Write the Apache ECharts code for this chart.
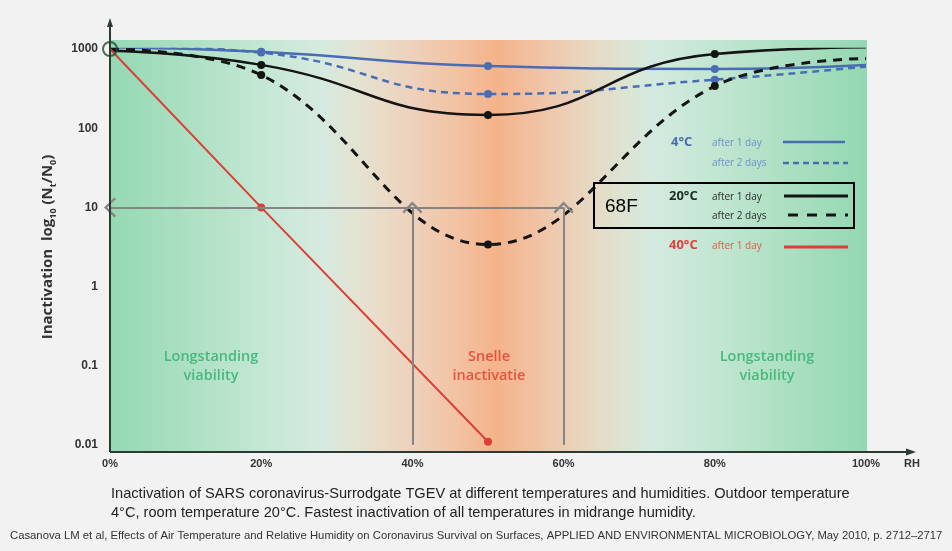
<!DOCTYPE html>
<html><head><meta charset="utf-8">
<script src="https://cdn.jsdelivr.net/npm/echarts@6/dist/echarts.min.js"></script>
<style>html,body{margin:0;padding:0;background:#f2f2f2}#c{width:952px;height:551px}</style>
</head><body><div id="c"></div>
<script>
// ---- data ----
const rhPoints = [0, 20, 50, 80, 100];          // relative humidity (%)
const t4Day1  = [1050, 920, 610, 560, 630];     // 4°C after 1 day
const t4Day2  = [1120, 900, 270, 410, 600];     // 4°C after 2 days
const t20Day1 = [950, 630, 147, 865, 1050];     // 20°C after 1 day
const t20Day2 = [1000, 470, 3.4, 340, 760];     // 20°C after 2 days
const rh40    = [0, 20, 50];
const t40Day1 = [1000, 10, 0.011];              // 40°C after 1 day
const startPoint = [0, 1000];
const xTicks = [0, 20, 40, 60, 80, 100];
const yTicks = [0.01, 0.1, 1, 10, 100, 1000];
const guideLevel = 10;          // horizontal guide at 10
const guideRH = [40, 60];       // vertical guides

const chart = echarts.init(document.getElementById('c'), null, {renderer: 'canvas'});

const BLUE = '#4a6cb3', BLACK = '#141414', RED = '#dc3f38';
const markedPts = (xs, ys, ends) => xs.map((x, i) => ({
  value: [x, ys[i]],
  symbol: ends.includes(x) ? 'none' : 'circle'
}));

const chevron = 'path://M10,0 L20,10 L18.4,11.6 L10,3.2 L1.6,11.6 L0,10 Z';

const bgStops = [
  [0, '#95d9b3'], [0.09, '#a9dfc1'], [0.22, '#c8e8d6'], [0.28, '#d6eadf'],
  [0.33, '#e5e2d1'], [0.40, '#eed1bb'], [0.47, '#f3bf9e'], [0.51, '#f4b38a'],
  [0.56, '#f1c1a2'], [0.62, '#e9d4bd'], [0.68, '#dde4d3'], [0.72, '#d3eadf'],
  [0.80, '#c2e6d2'], [0.90, '#abdfc1'], [1, '#93d8b2']
].map(s => ({offset: s[0], color: s[1]}));

const txt = (x, y, text, font, fill, align, lineHeight) => ({
  type: 'text', x, y, silent: true, z: 60,
  style: {text, font, fill, align: align || 'left', verticalAlign: 'middle', lineHeight: lineHeight || undefined}
});
const seg = (x1, y1, x2, y2, stroke, lineWidth, lineDash) => ({
  type: 'line', silent: true, z: 60,
  shape: {x1, y1, x2, y2},
  style: {stroke, lineWidth, lineDash: lineDash || null}
});

const legFont = '10px "Open Sans"';
const regionFont = '600 14.5px "Open Sans"';
const graphics = [
  {type: 'rect', silent: true, z: -10, shape: {x: 110, y: 40, width: 757, height: 412},
   style: {fill: new echarts.graphic.LinearGradient(0, 0, 1, 0, bgStops)}},
  // axes lines with arrows
  seg(110, 452, 110, 24, '#2b3a32', 2),
  {type: 'polygon', silent: true, z: 60, shape: {points: [[110, 18], [107, 27], [113, 27]]}, style: {fill: '#2b3a32'}},
  seg(110, 452, 908, 452, '#2b3a32', 2),
  {type: 'polygon', silent: true, z: 60, shape: {points: [[916, 452], [906, 448.5], [906, 455.5]]}, style: {fill: '#2b3a32'}},
  // region labels
  txt(211, 366, 'Longstanding\nviability', regionFont, '#47b97c', 'center', 19),
  txt(489, 366, 'Snelle\ninactivatie', regionFont, '#e5533d', 'center', 19),
  txt(767, 366, 'Longstanding\nviability', regionFont, '#47b97c', 'center', 19),
  // legend
  txt(671, 142, '4°C', 'bold 13px "Open Sans"', '#4a6aad'),
  txt(712, 143, 'after 1 day', legFont, '#7090cc'),
  seg(783, 142, 845, 142, BLUE, 2.5),
  txt(712, 163, 'after 2 days', legFont, '#7090cc'),
  seg(783, 163, 848, 163, BLUE, 2.5, [6, 4]),
  {type: 'rect', silent: true, z: 60, shape: {x: 594, y: 183, width: 260, height: 45},
   style: {fill: 'none', stroke: '#000', lineWidth: 2}},
  txt(605, 207, '68F', '19px "Liberation Sans"', '#000'),
  txt(669, 196, '20°C', 'bold 13px "Open Sans"', '#1c2a22'),
  txt(712, 197, 'after 1 day', legFont, '#2a2a2a'),
  seg(784, 196, 848, 196, BLACK, 3),
  txt(712, 216, 'after 2 days', legFont, '#2a2a2a'),
  seg(788, 215, 848, 215, BLACK, 3, [10, 9]),
  txt(669, 245, '40°C', 'bold 13px "Open Sans"', '#e0413a'),
  txt(712, 246, 'after 1 day', legFont, '#e35a4a'),
  seg(784, 247, 848, 247, RED, 3),
  // captions
  txt(111, 494, 'Inactivation of SARS coronavirus-Surrodgate TGEV at different temperatures and humidities. Outdoor temperature', '14.6px "Liberation Sans"', '#222'),
  txt(111, 513, '4°C, room temperature 20°C. Fastest inactivation of all temperatures in midrange humidity.', '14.6px "Liberation Sans"', '#222'),
  txt(10, 536, 'Casanova LM et al, Effects of Air Temperature and Relative Humidity on Coronavirus Survival on Surfaces, APPLIED AND ENVIRONMENTAL MICROBIOLOGY, May 2010, p. 2712–2717', '11.3px "Liberation Sans"', '#333')
];

const option = {
  backgroundColor: '#f2f2f2',
  animation: false,
  grid: {left: 110, right: 86, top: 49, bottom: 106, containLabel: false},
  xAxis: {
    type: 'value', min: 0, max: 100, interval: 20,
    axisLine: {show: false}, axisTick: {show: false}, splitLine: {show: false},
    axisLabel: {margin: 13, formatter: '{value}%', color: '#333', fontWeight: 'bold', fontSize: 11,
                fontFamily: 'Liberation Sans', customValues: xTicks},
    name: 'RH', nameLocation: 'end', nameGap: 38,
    nameTextStyle: {color: '#333', fontWeight: 'bold', fontSize: 11, fontFamily: 'Liberation Sans',
                    align: 'left', verticalAlign: 'top', padding: [13, 0, 0, 0]}
  },
  yAxis: {
    type: 'log', logBase: 10, min: yTicks[0], max: yTicks[yTicks.length - 1],
    axisLine: {show: false}, axisTick: {show: false}, splitLine: {show: false},
    axisLabel: {margin: 12, color: '#333', fontWeight: 'bold', fontSize: 12, fontFamily: 'Liberation Sans',
                formatter: v => String(+v.toPrecision(3))},
    name: 'Inactivation  log{s|10} (N{s|t}/N{s|0})',
    nameLocation: 'middle', nameRotate: 90, nameGap: 52,
    nameTextStyle: {color: '#333', fontWeight: 'bold', fontSize: 15, fontFamily: 'Open Sans', lineHeight: 20,
      rich: {s: {fontSize: 9, fontWeight: 'bold', fontFamily: 'Open Sans', color: '#333', lineHeight: 11, verticalAlign: 'bottom'}}}
  },
  graphic: graphics,
  series: [
    {name: '4°C after 1 day', type: 'line', smooth: 0.5, z: 3,
     data: markedPts(rhPoints, t4Day1, [0, 100]), symbolSize: 8,
     itemStyle: {color: BLUE}, lineStyle: {color: BLUE, width: 2.5}},
    {name: '4°C after 2 days', type: 'line', smooth: 0.5, z: 3,
     data: markedPts(rhPoints, t4Day2, [0, 100]), symbolSize: 8,
     itemStyle: {color: BLUE}, lineStyle: {color: BLUE, width: 2.5, type: [7, 5]}},
    {name: '20°C after 1 day', type: 'line', smooth: 0.5, z: 4,
     data: markedPts(rhPoints, t20Day1, [0, 100]), symbolSize: 8,
     itemStyle: {color: BLACK}, lineStyle: {color: BLACK, width: 2.5}},
    {name: '20°C after 2 days', type: 'line', smooth: 0.4, z: 4,
     data: markedPts(rhPoints, t20Day2, [0, 100]), symbolSize: 8,
     itemStyle: {color: BLACK}, lineStyle: {color: BLACK, width: 3, type: [9, 7]}},
    {name: '40°C after 1 day', type: 'line', smooth: false, z: 5, clip: false,
     data: markedPts(rh40, t40Day1, [0]), symbolSize: 8,
     itemStyle: {color: RED}, lineStyle: {color: RED, width: 2},
     markLine: {
       silent: true, symbol: ['none', chevron], symbolSize: [20, 12], z: 6,
       label: {show: false},
       lineStyle: {color: '#858585', width: 2, type: 'solid'},
       data: [
         [{coord: [guideRH[1], guideLevel]}, {coord: [0, guideLevel]}],
         [{coord: [guideRH[0], yTicks[0]]}, {coord: [guideRH[0], guideLevel]}],
         [{coord: [guideRH[1], yTicks[0]]}, {coord: [guideRH[1], guideLevel]}]
       ]
     }},
    {name: 'start', type: 'scatter', z: 6, data: [startPoint], symbol: 'circle', symbolSize: 14,
     itemStyle: {color: 'rgba(0,0,0,0)', borderColor: '#1f4a35', borderWidth: 2}}
  ]
};
chart.setOption(option);
</script></body></html>
